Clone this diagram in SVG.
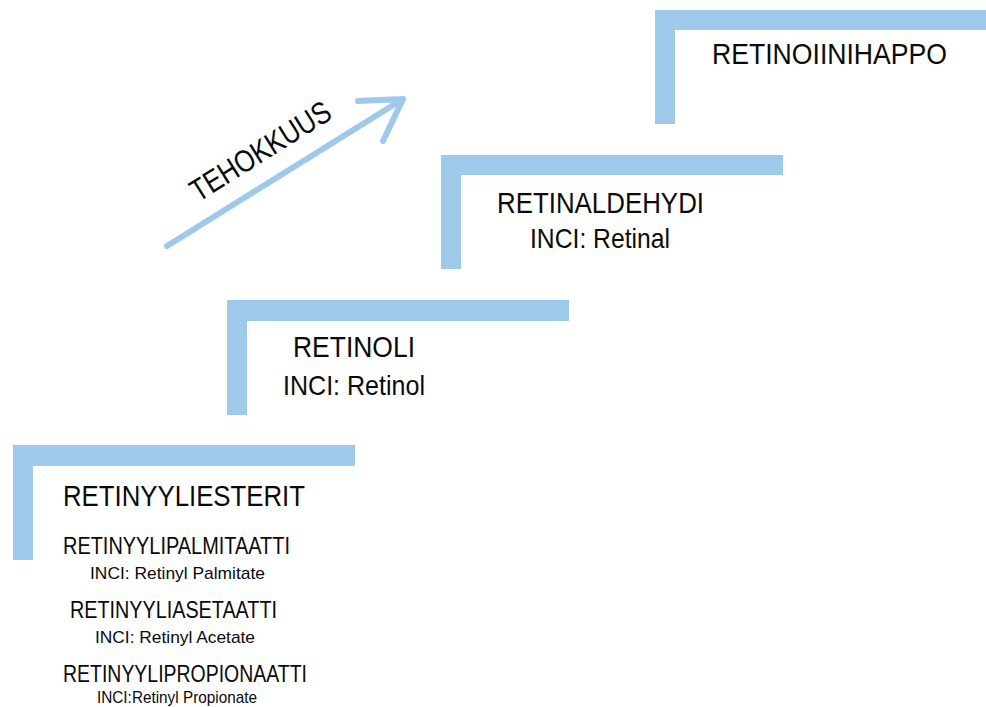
<svg xmlns="http://www.w3.org/2000/svg" width="986" height="707" viewBox="0 0 986 707">
<style>
.step{fill:#9fc9ea}
text{font-family:"Liberation Sans","DejaVu Sans",sans-serif;fill:#0a0a0a}
.h{font-size:29px}
.h2{font-size:24px}
.s{font-size:28px}
.xs{font-size:17px}
.t{font-size:31px}
.arrow{stroke:#9fc9ea;stroke-width:6;stroke-linecap:round;stroke-linejoin:round;fill:none}
</style>
<rect width="986" height="707" fill="#ffffff"/>
<g id="step1">
<path class="step" d="M13 445H355V466H33V560H13Z"/>
<text class="h" x="63" y="506" textLength="242" lengthAdjust="spacingAndGlyphs">RETINYYLIESTERIT</text>
<text class="h2" x="63" y="554" textLength="227" lengthAdjust="spacingAndGlyphs">RETINYYLIPALMITAATTI</text>
<text class="xs" x="90" y="579" textLength="175" lengthAdjust="spacingAndGlyphs">INCI: Retinyl Palmitate</text>
<text class="h2" x="70" y="618" textLength="207" lengthAdjust="spacingAndGlyphs">RETINYYLIASETAATTI</text>
<text class="xs" x="95" y="643" textLength="160" lengthAdjust="spacingAndGlyphs">INCI: Retinyl Acetate</text>
<text class="h2" x="63" y="682" textLength="244" lengthAdjust="spacingAndGlyphs">RETINYYLIPROPIONAATTI</text>
<text class="xs" x="97" y="703" textLength="160" lengthAdjust="spacingAndGlyphs">INCI:Retinyl Propionate</text>
</g>
<g id="step2">
<path class="step" d="M227 300H569V321H247V415H227Z"/>
<text class="h" x="293" y="357" textLength="122" lengthAdjust="spacingAndGlyphs">RETINOLI</text>
<text class="s" x="283" y="395" textLength="142" lengthAdjust="spacingAndGlyphs">INCI: Retinol</text>
</g>
<g id="step3">
<path class="step" d="M441 155H783V175H461V269H441Z"/>
<text class="h" x="497" y="213" textLength="207" lengthAdjust="spacingAndGlyphs">RETINALDEHYDI</text>
<text class="s" x="530" y="248" textLength="140" lengthAdjust="spacingAndGlyphs">INCI: Retinal</text>
</g>
<g id="step4">
<path class="step" d="M655 10H986V30H675V124H655Z"/>
<text class="h" x="712" y="64" textLength="235" lengthAdjust="spacingAndGlyphs">RETINOIINIHAPPO</text>
</g>
<g id="connectors">
<path class="arrow" d="M167 246L403 99M358 101L403 99L383 141"/>
<text class="t" text-anchor="middle" transform="translate(266 160) rotate(-32)" textLength="160" lengthAdjust="spacingAndGlyphs">TEHOKKUUS</text>
</g>
</svg>
